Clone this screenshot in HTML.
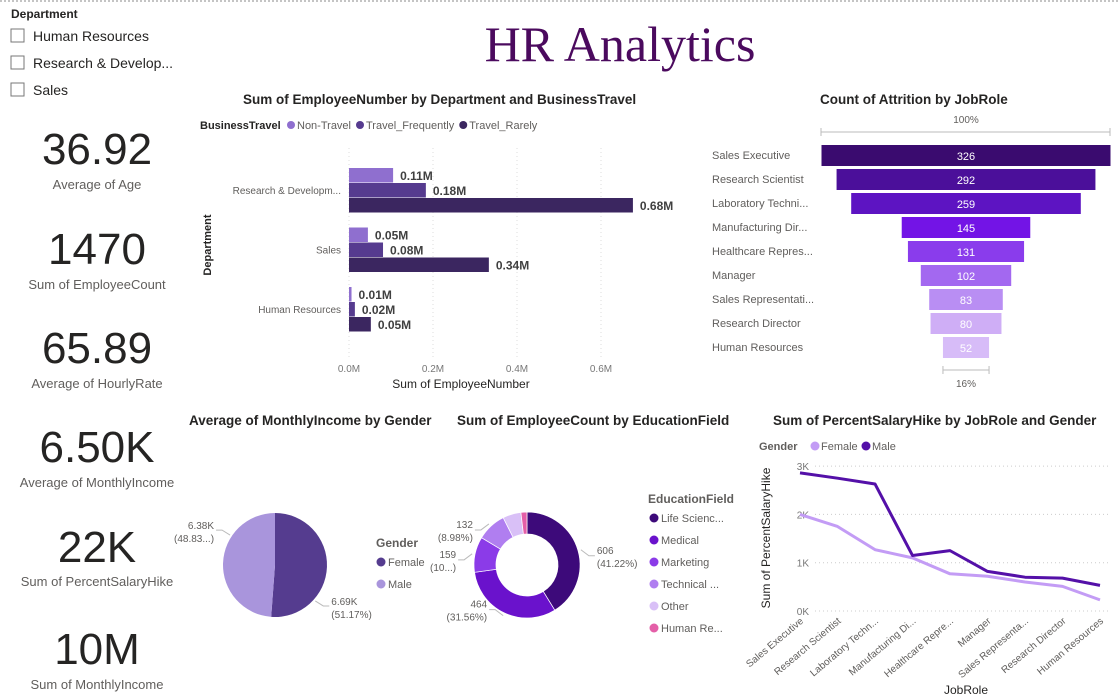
<!DOCTYPE html>
<html><head><meta charset="utf-8">
<style>
html,body{margin:0;padding:0;background:#fff;width:1119px;height:699px;overflow:hidden}
svg{display:block;font-family:"Liberation Sans",sans-serif}
.kv{font-family:"Liberation Sans Narrow","Liberation Sans",sans-serif;font-size:44px;fill:#252423;text-anchor:middle}
.kl{font-size:13px;fill:#605e5c;text-anchor:middle}
.ct{font-size:13.5px;font-weight:bold;fill:#252423}
</style></head><body>
<svg id="s" width="1119" height="699" viewBox="0 0 1119 699">
<line x1="0" y1="1" x2="1119" y2="1" stroke="#888" stroke-dasharray="2,2"/>
<text x="620" y="61" text-anchor="middle" font-family="'Liberation Serif',serif" font-size="50" fill="#4b0a5e">HR Analytics</text>
<g>
<text x="11" y="18" font-size="12" font-weight="bold" fill="#252423">Department</text>
<g><rect x="11" y="29" width="13" height="13" fill="#fff" stroke="#777"/><text x="33" y="41" font-size="14" fill="#252423">Human Resources</text></g>
<g><rect x="11" y="56" width="13" height="13" fill="#fff" stroke="#777"/><text x="33" y="68" font-size="14" fill="#252423">Research &amp; Develop...</text></g>
<g><rect x="11" y="83" width="13" height="13" fill="#fff" stroke="#777"/><text x="33" y="95" font-size="14" fill="#252423">Sales</text></g>
</g>
<g><text class="kv" x="97" y="164">36.92</text><text class="kl" x="97" y="189">Average of Age</text></g>
<g><text class="kv" x="97" y="264">1470</text><text class="kl" x="97" y="289">Sum of EmployeeCount</text></g>
<g><text class="kv" x="97" y="363">65.89</text><text class="kl" x="97" y="388">Average of HourlyRate</text></g>
<g><text class="kv" x="97" y="462">6.50K</text><text class="kl" x="97" y="487">Average of MonthlyIncome</text></g>
<g><text class="kv" x="97" y="562">22K</text><text class="kl" x="97" y="586">Sum of PercentSalaryHike</text></g>
<g><text class="kv" x="97" y="664">10M</text><text class="kl" x="97" y="689">Sum of MonthlyIncome</text></g>

<g id="bar">
<text class="ct" x="243" y="104">Sum of EmployeeNumber by Department and BusinessTravel</text>
<text x="200" y="129" font-size="11" font-weight="bold" fill="#252423">BusinessTravel</text>
<text x="0" y="0" transform="translate(211,245) rotate(-90)" text-anchor="middle" font-size="11" font-weight="bold" fill="#252423">Department</text>
<text x="461" y="388" text-anchor="middle" font-size="12" fill="#252423">Sum of EmployeeNumber</text>
</g>
<g id="fun">
<text class="ct" x="820" y="104">Count of Attrition by JobRole</text>
</g>
<g id="pie">
<text class="ct" x="189" y="425">Average of MonthlyIncome by Gender</text>
</g>
<g id="don">
<text class="ct" x="457" y="425">Sum of EmployeeCount by EducationField</text>
</g>
<g id="line">
<text class="ct" x="773" y="425">Sum of PercentSalaryHike by JobRole and Gender</text>
<text x="0" y="0" transform="translate(770,538) rotate(-90)" text-anchor="middle" font-size="12" fill="#252423">Sum of PercentSalaryHike</text>
<text x="966" y="694" text-anchor="middle" font-size="12" fill="#252423">JobRole</text>
</g>
</svg>
<script>
const NS="http://www.w3.org/2000/svg";
function mk(p,t,a,txt){const e=document.createElementNS(NS,t);for(const k in a)e.setAttribute(k,a[k]);if(txt!==undefined)e.textContent=txt;p.appendChild(e);return e;}

// ---- bar chart data
const depts=["Research & Developm...","Sales","Human Resources"];
const travelTypes=["Non-Travel","Travel_Frequently","Travel_Rarely"];
const nonTravel=[0.105,0.045,0.006];
const travelFreq=[0.183,0.081,0.014];
const travelRare=[0.676,0.333,0.052];
const barLabels=[["0.11M","0.18M","0.68M"],["0.05M","0.08M","0.34M"],["0.01M","0.02M","0.05M"]];
const xTicks=[0,0.2,0.4,0.6];
const xTickLabels=["0.0M","0.2M","0.4M","0.6M"];
// ---- funnel
const roles=["Sales Executive","Research Scientist","Laboratory Techni...","Manufacturing Dir...","Healthcare Repres...","Manager","Sales Representati...","Research Director","Human Resources"];
const attrition=[326,292,259,145,131,102,83,80,52];
// ---- pie
const genders=["Female","Male"];
const avgIncome=[6.687,6.381];
const pieLabels=["6.69K","6.38K"];
// ---- donut
const eduFields=["Life Scienc...","Medical","Marketing","Technical ...","Other","Human Re..."];
const eduCounts=[606,464,159,132,82,27];
// ---- line
const lineRoles=["Sales Executive","Research Scientist","Laboratory Techn...","Manufacturing Di...","Healthcare Repre...","Manager","Sales Representa...","Research Director","Human Resources"];
const maleHike=[2860,2750,2630,1150,1250,820,700,680,530];
const femaleHike=[2000,1750,1270,1100,770,720,600,510,230];
const yTicks=[0,1000,2000,3000];
const yTickLabels=["0K","1K","2K","3K"];

// ===== Bar chart
(function(){
 const g=document.getElementById('bar');
 const cols=["#8f6fcf","#563b8f","#3b2660"];
 const x=v=>349+v*420;
 xTicks.forEach((t,i)=>{const l=mk(g,'line',{x1:x(t),x2:x(t),y1:148,y2:358,stroke:'#ddd','stroke-dasharray':'1,3'});
 
 const tx=mk(g,'text',{x:x(t),y:372,'text-anchor':'middle','font-size':10,fill:'#777'},xTickLabels[i]);
 });
 let lx=287;
 travelTypes.forEach((n,i)=>{const c=mk(g,'circle',{cx:lx+4,cy:125,r:4,fill:cols[i]});
 
 const t=mk(g,'text',{x:lx+10,y:129,'font-size':11,fill:'#605e5c'},n);
 
 lx+=10+t.getComputedTextLength()+5;});
 const series=[nonTravel,travelFreq,travelRare];
 depts.forEach((d,di)=>{const top=168+di*59.5;
 const t=mk(g,'text',{x:341,y:top+26,'text-anchor':'end','font-size':10,fill:'#605e5c'},d);
 
 series.forEach((s,si)=>{const y=top+si*15;
  const r=mk(g,'rect',{x:349,y:y,width:Math.max(1,x(s[di])-349),height:14.5,fill:cols[si]});
  
  const lb=mk(g,'text',{x:x(s[di])+7,y:y+12,'font-size':12,'font-weight':'bold',fill:'#404040'},barLabels[di][si]);
  });});
})();

// ===== Funnel
(function(){
 const g=document.getElementById('fun');
 const cols=["#3a0b6f","#4b0f9a","#5d14c2","#7314e6","#8a3cec","#a368f0","#b98ef3","#cfaef6","#d7bcf8"];
 const cx=966,max=attrition[0],W=289;
 mk(g,'text',{x:cx,y:123,'text-anchor':'middle','font-size':10,fill:'#605e5c'},'100%');
 const ln=mk(g,'path',{d:`M821 128v8M821 132H1110M1110 128v8`,stroke:'#bbb',fill:'none'});
 
 attrition.forEach((v,i)=>{const w=W*v/max,y=145+i*24;
  const r=mk(g,'rect',{x:cx-w/2,y:y,width:w,height:21,fill:cols[i]});
  
  const t=mk(g,'text',{x:cx,y:y+15,'text-anchor':'middle','font-size':11,fill:'#fff'},v);
  
  const l=mk(g,'text',{x:712,y:y+14,'font-size':11,fill:'#605e5c'},roles[i]);
  });
 const last=W*attrition[attrition.length-1]/max;
 const b=mk(g,'path',{d:`M${cx-last/2} 366v8M${cx-last/2} 370H${cx+last/2}M${cx+last/2} 366v8`,stroke:'#bbb',fill:'none'});
 
 mk(g,'text',{x:cx,y:387,'text-anchor':'middle','font-size':10,fill:'#605e5c'},Math.round(100*attrition[attrition.length-1]/max)+'%');
})();

function arc(cx,cy,r,ri,a0,a1){const p=(a,rr)=>[cx+rr*Math.sin(a),cy-rr*Math.cos(a)];const lg=(a1-a0)>Math.PI?1:0;
 const [x0,y0]=p(a0,r),[x1,y1]=p(a1,r);
 if(!ri)return `M${cx} ${cy}L${x0} ${y0}A${r} ${r} 0 ${lg} 1 ${x1} ${y1}Z`;
 const [x2,y2]=p(a1,ri),[x3,y3]=p(a0,ri);
 return `M${x0} ${y0}A${r} ${r} 0 ${lg} 1 ${x1} ${y1}L${x2} ${y2}A${ri} ${ri} 0 ${lg} 0 ${x3} ${y3}Z`;}

// ===== Pie
(function(){
 const g=document.getElementById('pie');
 const cols=["#553c8f","#a995dc"];const cx=275,cy=565,r=52;
 const tot=avgIncome.reduce((a,b)=>a+b,0);let a=0;
 avgIncome.forEach((v,i)=>{const a1=a+v/tot*2*Math.PI;
  const p=mk(g,'path',{d:arc(cx,cy,r,0,a,a1),fill:cols[i]});
  
  const right=i==0;
  const ang=right?2.3:5.3;
  const ex=cx+(r+2)*Math.sin(ang),ey=cy-(r+2)*Math.cos(ang);
  const ox=ex+(right?8:-8),oy=ey+(right?5:-5);
  mk(g,'path',{d:`M${ex} ${ey}L${ox} ${oy}h${right?6:-6}`,stroke:'#bbb',fill:'none'});
  const pct=(v/tot*100).toFixed(2)+'%';
  const lbl=right?'('+pct+')':'(48.83...)';
  const tx=ox+(right?8:-8),ty=oy-1;
  const t=mk(g,'text',{x:tx,y:ty,'text-anchor':right?'start':'end','font-size':10,fill:'#605e5c'});
  
  mk(t,'tspan',{x:tx,dy:0},pieLabels[i]);mk(t,'tspan',{x:tx,dy:13},lbl);
  a=a1;});
 mk(g,'text',{x:376,y:547,'font-size':12,'font-weight':'bold',fill:'#605e5c'},'Gender');
 genders.forEach((n,i)=>{const c=mk(g,'circle',{cx:381,cy:562+i*22,r:4.5,fill:cols[i]});
  
  const t=mk(g,'text',{x:388,y:566+i*22,'font-size':11,fill:'#605e5c'},n);
  });
})();

// ===== Donut
(function(){
 const g=document.getElementById('don');
 const cols=["#3d0a7a","#6a12cc","#8b3be8","#b07ef0","#d9c0f7","#e45fa8"];
 const cx=527,cy=565,r=53,ri=31;const tot=eduCounts.reduce((a,b)=>a+b,0);let a=0;
 eduCounts.forEach((v,i)=>{const a1=a+v/tot*2*Math.PI;
  const p=mk(g,'path',{d:arc(cx,cy,r,ri,a,a1),fill:cols[i],stroke:'#fff','stroke-width':0.7});
  
  if(i<4){const m=(a+a1)/2,ex=cx+(r+3)*Math.sin(m),ey=cy-(r+3)*Math.cos(m);
   const right=Math.sin(m)>0;const ox=ex+(right?8:-8),oy=ey+(Math.cos(m)<0?-6:6);
   mk(g,'path',{d:`M${ex} ${ey}L${ox} ${oy}h${right?6:-6}`,stroke:'#bbb',fill:'none'});
   let pct='('+(v/tot*100).toFixed(2)+'%)';if(i==2)pct='(10...)';
   const tx=ox+(right?8:-8);
   const t=mk(g,'text',{x:tx,y:oy-2,'text-anchor':right?'start':'end','font-size':10,fill:'#605e5c'});
   
   mk(t,'tspan',{x:tx,dy:0},v);mk(t,'tspan',{x:tx,dy:13},pct);}
  a=a1;});
 mk(g,'text',{x:648,y:503,'font-size':12,'font-weight':'bold',fill:'#605e5c'},'EducationField');
 eduFields.forEach((n,i)=>{const c=mk(g,'circle',{cx:654,cy:518+i*22,r:4.5,fill:cols[i]});
  
  const t=mk(g,'text',{x:661,y:522+i*22,'font-size':11,fill:'#605e5c'},n);
  });
})();

// ===== Line chart
(function(){
 const g=document.getElementById('line');
 const x=i=>800+i*37.5,y=v=>611-v*0.0483;
 yTicks.forEach((t,i)=>{const l=mk(g,'line',{x1:815,x2:1110,y1:y(t),y2:y(t),stroke:'#ccc','stroke-dasharray':'1,3'});
  
  const tx=mk(g,'text',{x:809,y:y(t)+4,'text-anchor':'end','font-size':10,fill:'#777'},yTickLabels[i]);
  });
 lineRoles.forEach((r,i)=>{const t=mk(g,'text',{x:0,y:0,transform:`translate(${x(i)+4},${622}) rotate(-40)`,'text-anchor':'end','font-size':10,fill:'#605e5c'},r);
  });
 const pf=mk(g,'polyline',{points:femaleHike.map((v,i)=>x(i)+','+y(v)).join(' '),fill:'none',stroke:'#c39cf5','stroke-width':3,'stroke-linejoin':'round'});
 
 const pm=mk(g,'polyline',{points:maleHike.map((v,i)=>x(i)+','+y(v)).join(' '),fill:'none',stroke:'#5410a8','stroke-width':3,'stroke-linejoin':'round'});
 
 mk(g,'text',{x:759,y:450,'font-size':11,'font-weight':'bold',fill:'#605e5c'},'Gender');
 [["Female","#c39cf5",815],["Male","#5410a8",866]].forEach(([n,c,lx])=>{const m=mk(g,'circle',{cx:lx,cy:446,r:4.5,fill:c});
  
  const t=mk(g,'text',{x:lx+6,y:450,'font-size':11,fill:'#605e5c'},n);
  });
})();
</script>
</body></html>
